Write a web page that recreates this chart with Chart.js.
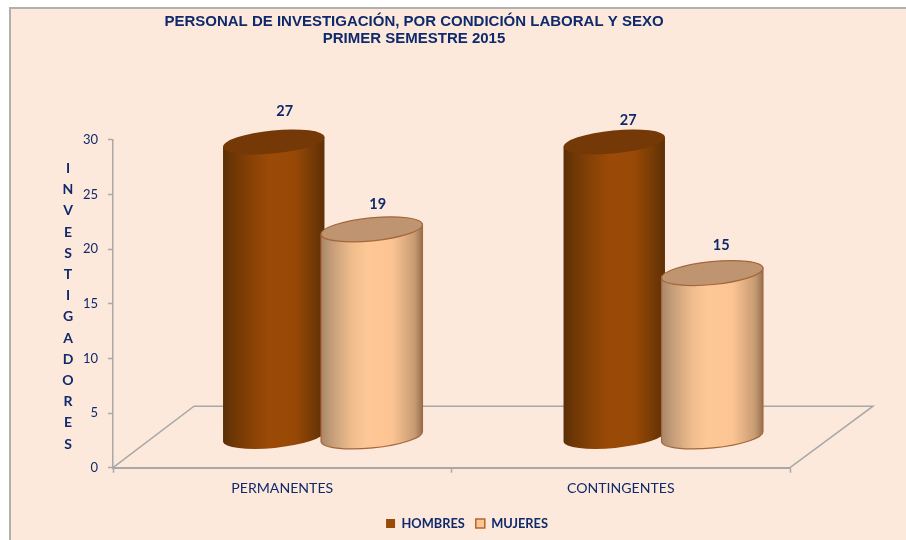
<!DOCTYPE html>
<html lang="es">
<head>
  <meta charset="UTF-8" />
  <title>Personal de investigación</title>
  <script src="https://cdn.jsdelivr.net/npm/chart.js"></script>
  <style>
    html, body { margin: 0; background: #fff; overflow: hidden; }
    #panel {
      position: absolute; left: 9px; top: 7px; width: 897px; height: 533px;
      box-sizing: border-box; background: #fde9db;
      border-left: 2px solid #b2b0ae; border-top: 2px solid #b2b0ae;
    }
    canvas { display: block; }
  </style>
</head>
<body>
<div id="panel"><canvas id="chart" width="895" height="531"></canvas></div>

<script>
  const titulo = ["PERSONAL DE INVESTIGACIÓN, POR CONDICIÓN LABORAL Y SEXO", "PRIMER SEMESTRE 2015"];
  const categorias = ["PERMANENTES", "CONTINGENTES"];
  const hombres = [27, 27];
  const mujeres = [19, 15];
  const ejeY = "INVESTIGADORES";

  const azul = "#0f2a6c";
  const gris = "#a8a8a8";
  const rotacion = -0.098;
  const fondoX = 81, fondoY = -61.5;

  // colour stops for the two cylinders
  const paradas = [0, 0.1, 0.3, 0.45, 0.7, 0.92, 1];
  const tonos = [
    { cuerpo: ["#5a2e06", "#6e3705", "#8a4306", "#9b4a07", "#994906", "#6e3705", "#5c3008"], tapa: "#753807", borde: null },
    { cuerpo: ["#a98569", "#c29c78", "#efbc8c", "#fdc896", "#fcc492", "#c79b73", "#93704f"], tapa: "#bf9571", borde: "#a4663a" }
  ];
  // second group sits a little to the right of its category centre in the original
  const desvio = [0, 2];
  // hand placed labels in the original: [dx, dy] from the top of each cylinder
  const etiquetas = [[[11, -30.5], [14, -21.5]], [[6, -25.5], [9, -28]]];

  function cilindro(ctx, barra, i, tono) {
    const a = barra.width / 2;
    const b = 11.5;
    const cx = barra.x + fondoX / 2 + desvio[i];
    const arriba = barra.y + fondoY / 2;
    const abajo = barra.base + fondoY / 2;
    const ax = a * Math.cos(rotacion), ay = a * Math.sin(rotacion);

    const grad = ctx.createLinearGradient(cx - a, 0, cx + a, 0);
    tono.cuerpo.forEach((c, n) => grad.addColorStop(paradas[n], c));

    ctx.beginPath();
    ctx.ellipse(cx, abajo, a, b, rotacion, 0, Math.PI);
    ctx.lineTo(cx - ax, arriba - ay);
    ctx.lineTo(cx + ax, arriba + ay);
    ctx.closePath();
    ctx.fillStyle = grad;
    ctx.fill();
    if (tono.borde) {
      ctx.strokeStyle = tono.borde;
      ctx.lineWidth = 1.2;
      ctx.stroke();
    }

    ctx.beginPath();
    ctx.ellipse(cx, arriba, a, b, rotacion, 0, Math.PI * 2);
    ctx.fillStyle = tono.tapa;
    ctx.fill();
    if (tono.borde) ctx.stroke();
  }

  const cilindros = {
    id: "cilindros",
    beforeDraw(chart) {
      // the original title and legend are off centre
      chart.titleBlock.left = 0;
      chart.titleBlock.right = 806;
      chart.legend.left = 17;
      chart.legend.right = 895;
    },
    beforeDatasetsDraw(chart) {
      const { ctx, scales: { x, y } } = chart;
      const y0 = y.getPixelForValue(0);
      ctx.save();
      ctx.strokeStyle = gris;
      ctx.lineWidth = 1.5;
      ctx.beginPath();
      ctx.moveTo(x.left, y0);
      ctx.lineTo(x.left + fondoX, y0 + fondoY);
      ctx.lineTo(x.right + fondoX + 2, y0 + fondoY);
      ctx.lineTo(x.right, y0);
      ctx.stroke();
      // women go over men, Chart.js would paint them the other way round
      chart.data.datasets.forEach((ds, d) => {
        chart.getDatasetMeta(d).data.forEach((barra, i) => cilindro(ctx, barra, i, tonos[d]));
      });
      ctx.restore();
    },
    beforeDatasetDraw() {
      return false;
    },
    afterDatasetsDraw(chart) {
      const { ctx, scales: { y } } = chart;
      ctx.save();
      ctx.fillStyle = azul;
      ctx.textAlign = "center";
      ctx.textBaseline = "middle";
      ctx.font = "bold 14.5px Lato";
      chart.data.datasets.forEach((ds, d) => {
        chart.getDatasetMeta(d).data.forEach((barra, i) => {
          const [dx, dy] = etiquetas[d][i];
          ctx.fillText(ds.data[i], barra.x + fondoX / 2 + desvio[i] + dx, barra.y + fondoY / 2 + dy);
        });
      });
      const medio = (y.top + y.bottom) / 2 + 2.5;
      ctx.font = "bold 14px Lato";
      [...ejeY].forEach((letra, i) => {
        ctx.fillText(letra, 57, medio + (i - (ejeY.length - 1) / 2) * 21.2);
      });
      ctx.restore();
    }
  };

  new Chart(document.getElementById("chart"), {
    type: "bar",
    data: {
      labels: categorias,
      datasets: [
        { label: "HOMBRES", data: hombres, backgroundColor: "#9a4a07", borderWidth: 0 },
        { label: "MUJERES", data: mujeres, backgroundColor: "#fcc595", borderColor: "#b5652a", borderWidth: 1.5 }
      ]
    },
    options: {
      responsive: false,
      animation: false,
      layout: { padding: { left: 0, right: 116, top: 0, bottom: 0 } },
      datasets: { bar: { categoryPercentage: 0.579, barPercentage: 1.04 } },
      scales: {
        x: {
          afterFit(s) { s.height = 38.5; },
          border: { color: gris, width: 2 },
          grid: { drawOnChartArea: false, tickColor: gris, tickLength: 5, tickWidth: 1.5 },
          ticks: { color: azul, font: { family: "Lato", size: 14.1 }, padding: 7, maxRotation: 0 }
        },
        y: {
          min: 0,
          max: 30,
          afterFit(s) { s.width = 102; },
          border: { color: gris, width: 1.5 },
          grid: { drawOnChartArea: false, tickColor: gris, tickLength: 5, tickWidth: 1.5 },
          ticks: { stepSize: 5, color: azul, font: { family: "Lato", size: 13 }, padding: 10 }
        }
      },
      plugins: {
        tooltip: { enabled: false },
        title: {
          display: true,
          text: titulo,
          color: azul,
          font: { family: "Liberation Sans", weight: "bold", size: 15, lineHeight: 1.13 },
          padding: { top: 4, bottom: 93 }
        },
        legend: {
          position: "bottom",
          labels: {
            color: azul,
            boxWidth: 9,
            boxHeight: 9,
            padding: 11,
            font: { family: "Lato", weight: "bold", size: 12.8 }
          }
        }
      }
    },
    plugins: [cilindros]
  });
</script>
</body>
</html>
